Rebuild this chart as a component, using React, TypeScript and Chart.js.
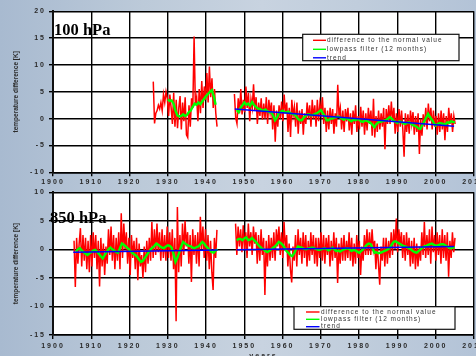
import React, { useEffect, useRef } from "react";
import { Chart, registerables } from "chart.js";
Chart.register(...registerables);

// ---------- axes ----------
const yearMin = 1900;
const yearMax = 2010;
const yearStep = 10;
const top100Range = [-10, 20];
const bottom850Range = [-15, 10];
const yStep = 5;

// ---------- labels ----------
const legendLabels = ["difference to the normal value", "lowpass filter (12 months)", "trend"];
const yTitle = "temperature difference [K]";
const xTitle = "years";
const title100 = "100 hPa";
const title850 = "850 hPa";

// ---------- 100 hPa data ----------
// red: difference to normal value, 3 samples per year
const diff100EarlyStart = 1926.2;
const diff100Early = [
  6.9, -0.9, 1.0, 1.5, 2.5, 1.8, 3.0, 1.5, 4.5, 3.0, 5.0, 3.8,
  0.5, 4.5, 2.0, -1.0, 4.8, -1.5, 3.5, -1.8, 2.0, 4.2, -2.0, 3.0,
  -0.5, 4.0, -3.0, -3.5, 2.5, -1.5, 3.8, 2.0, 15.3, 2.5, 4.0, -0.5,
  5.5, 1.0, 7.0, 2.0, 6.0, 3.5, 8.5, 3.0, 9.7, 4.0, 7.5, 2.0, 5.5, 1.0, -1.5,
];
const diff100LateStart = 1947.4;
const diff100Late = [
  4.6, 0.2,
  -0.9, 3.8, 1.0, 5.5, 0.8, 3.5, 1.2, 6.0, 2.0, 4.8, -0.5, 3.6,
  2.0, 6.4, 1.5, 4.0, -1.0, 3.0, 0.5, 3.8, -0.2, 2.8, 0.0, 4.0,
  -1.0, 3.5, 1.0, 3.0, -2.0, 2.5, -4.3, 1.5, -1.5, 2.5, 0.0, 3.2,
  -0.5, 4.5, 1.0, 3.0, -2.5, 2.0, -3.4, 3.5, 0.5, 2.2, -1.5, 3.0,
  -2.8, 1.5, -1.0, 1.8, -3.0, 1.0, -1.0, 3.0, 0.0, 2.5, -1.5, 3.5,
  0.0, 2.5, -1.5, 3.5, -0.5, 2.8, 1.0, 4.0, -1.0, 2.0, -2.5, 1.5,
  -2.0, 2.0, -1.0, 1.8, -2.8, 1.0, -1.5, 6.3, 0.5, 2.0, -2.0, 1.5,
  -2.5, 1.8, -0.5, 2.0, -2.2, 1.0, -3.0, 1.5, -1.0, 2.5, -2.5, 0.5,
  -2.0, 2.2, -1.5, 1.5, -3.0, 1.0, -2.2, 2.0, -1.0, 1.5, -3.2, 3.7,
  -3.5, 0.5, -2.5, 1.5, -2.0, 1.0, -1.5, 2.0, -5.7, 1.8, -1.0, 2.5,
  -1.0, 3.2, -0.5, 2.0, -2.8, 1.0, -2.5, 1.8, -1.5, 1.5, -2.0, -7.1,
  1.0, -2.5, 0.8, -2.8, 1.5, -1.0, 1.2, -3.0, 0.5, -2.5, 1.0, -6.6,
  0.0, -3.2, 0.8, -1.5, 2.0, -2.0, 2.8, -0.5, 2.0, -2.0, 1.5, -1.5,
  0.5, -3.0, 1.0, -2.5, 1.5, -2.0, 1.0, -4.0, 0.5, -2.5, 2.0, -1.0,
  1.0, -2.5, 0.5, -1.0,
];
// green: lowpass filter, 2 samples per year
const low100EarlyStart = 1930.0;
const low100Early = [
  3.6, 3.3, 3.4, 2.8, 1.5, 0.6, 0.4, 0.5, 0.8, 0.5, 0.7, 1.2, 1.5,
  2.2, 2.8, 2.6, 3.0, 2.7, 3.2, 3.7, 4.2, 4.6, 5.0, 5.3, 4.2, 2.6,
];
const low100LateStart = 1948.0;
const low100Late = [
  1.6, 1.2, 2.0, 2.5, 3.0, 2.6, 2.8, 2.4, 3.1, 2.6, 2.2, 1.9, 1.8, 1.6,
  1.5, 1.7, 1.4, 1.2, 1.2, 0.6, -0.3, 0.2, 1.0, 1.3, 1.5, 1.2, 1.2, 1.3,
  1.0, 0.9, 0.8, 0.5, 0.0, -0.3, -0.3, 0.2, 0.5, 0.8, 0.8, 0.6, 0.7, 0.9,
  1.0, 1.3, 1.6, 1.0, 0.5, -0.3, -0.3, 0.0, 0.0, 0.2, 0.3, 0.4, 0.2, 0.0,
  -0.2, 0.1, 0.0, -0.3, -0.5, -0.2, -0.3, -0.1, -0.2, -0.5, -0.6, -0.3,
  -0.4, -0.6, -0.8, -1.2, -1.6, -1.0, -0.7, -0.6, -0.5, -0.4, -0.3, 0.0,
  0.3, 0.0, -0.4, -0.6, -0.8, -0.5, -0.6, -0.9, -1.0, -0.8, -0.7, -0.9,
  -1.2, -1.3, -1.5, -1.8, -1.9, -1.2, -0.5, 0.2, 0.9, 0.3, -0.2, -0.8,
  -1.3, -1.0, -0.8, -0.9, -1.0, -1.1, -0.7, -0.8, -0.5, -0.6, -0.7,
];
const trend100Years = [1947.5, 2004.8];
const trend100Values = [1.8, -1.4];

// ---------- 850 hPa data ----------
const diff850EarlyStart = 1905.5;
const diff850Early = [
  1.5, -6.6,
  2.0, -2.5, 1.0, 3.7, -3.0, 2.5, -2.0, 2.0, -3.5, 1.5, -4.0, 2.5,
  -3.0, 3.0, -1.5, 2.5, -3.5, 1.5, -6.5, 2.0, -3.0, 1.0, -4.5, 0.5,
  -2.5, 3.5, -1.0, 4.0, -2.0, 2.5, -3.5, 2.0, -2.0, 3.0, -3.5, 6.3,
  -1.5, 4.5, 0.0, 3.0, -2.5, 2.0, -4.5, 2.5, -1.5, 1.5, -3.5, 2.0,
  -5.4, 1.0, -3.0, -1.0, -5.0, 0.5, -4.0, 1.5, -2.5, 2.0, -2.0, 4.8,
  -1.5, 3.5, -1.0, 4.5, -0.5, 3.0, -2.0, 3.5, -1.5, 2.5, -2.0, 4.0,
  -1.5, 3.0, -2.0, 3.5, -3.5, 2.0, -12.6, 7.4, -4.0, 2.5, -3.0, 4.5,
  -1.0, 5.0, 0.5, 3.0, -2.5, 2.5, -5.7, 3.5, -1.0, 2.5, -2.5, 3.0,
  -3.0, 5.7, 0.0, 4.0, -1.5, 3.5, -2.0, 2.5, -3.5, 1.5, -4.0, -7.1,
  2.0, -1.5, 3.4,
];
const diff850LateStart = 1947.7;
const diff850Late = [
  4.5,
  -1.0, 4.0, 0.5, 3.5, -0.5, 4.2, 0.0, 3.0, -1.5, 4.5, 0.5, 3.0,
  -1.0, 4.0, 1.0, 3.0, -2.5, 2.5, -2.0, 3.5, -1.0, 2.0, -8.0, 1.5,
  -3.0, 2.5, -2.0, 2.0, -1.5, 3.0, -2.0, 3.5, 0.5, 4.0, -1.0, 3.0,
  -1.5, 4.8, 0.0, 2.5, -3.0, 1.0, -3.5, -5.8, 0.5, -2.0, 2.5, -3.0,
  3.5, -1.0, 2.0, -2.5, 3.0, -1.5, 2.5, -3.0, 1.5, -2.0, 3.0, -1.0,
  2.5, -2.5, 2.0, -3.0, 2.0, -1.5, 3.0, -2.0, 2.5, -2.5, 2.0, -1.0,
  2.5, -3.0, 1.5, -2.0, 3.0, -1.5, 2.0, -5.9, 1.0, -2.5, 2.0, -2.0,
  2.5, -2.0, 1.5, -1.5, 3.0, -2.0, 2.0, -3.0, 1.0, -2.5, 2.5, -1.5,
  1.5, -4.5, 0.5, -2.0, 2.5, -1.0, 3.5, -1.0, 3.0, -1.0, 3.5, 0.0,
  1.5, -3.5, 1.0, -2.5, -6.2, 0.5, -2.0, 2.0, -3.0, 2.0, -2.5, 1.5,
  -1.5, 3.0, -1.0, 3.5, 0.0, 5.4, -0.5, 3.5, 0.5, 3.0, -1.5, 2.5,
  -2.0, 3.0, -1.0, 2.0, -3.0, 1.5, -2.5, 2.0, -3.5, 1.0, -3.0, 0.5,
  -2.0, 3.0, -1.0, 4.8, -1.5, 2.5, -1.0, 3.5, -2.5, 4.0, -0.5, 2.5,
  -2.0, 3.0, -1.0, 2.5, -2.5, 3.5, -1.5, 2.5, -2.0, 3.0, -4.8, 1.5,
  -1.5, 3.0, -0.5, 2.0,
];
const low850EarlyStart = 1906.0;
const low850Early = [
  -0.4, 0.0, 0.2, -0.2, -0.5, -0.8, -1.0, -0.7, -0.5, -0.2, -0.1, -0.4,
  -0.8, -1.2, -1.6, -1.0, -0.5, 0.0, 0.3, 0.0, -0.2, -0.5, -0.6, 0.2,
  1.0, 0.8, 0.5, 0.2, -0.1, -0.5, -0.8, -1.0, -1.3, -1.8, -2.2, -2.0,
  -1.5, -1.0, -0.5, 0.0, 0.3, 0.6, 1.0, 0.8, 0.5, 0.3, 0.2, 0.5,
  0.7, 0.6, 0.3, -0.8, -2.2, -1.5, -0.5, 0.5, 1.3, 1.0, 0.8, 0.6,
  0.5, 0.3, 0.2, 0.4, 0.5, 0.9, 1.3, 1.0, 0.5, 0.2, -0.2, -0.5,
  -0.6, -0.2, 0.0,
];
const low850LateStart = 1948.0;
const low850Late = [
  1.6, 1.8, 1.8, 1.6, 1.9, 2.1, 1.6, 1.7, 2.0, 1.6, 1.3, 0.9, 0.5, 0.2,
  0.0, -0.3, -0.5, -0.3, 0.0, 0.3, 0.5, 0.9, 1.3, 1.1, 0.8, 0.3, -0.3, -0.6,
  -1.0, -1.2, -0.7, 0.0, 0.5, 0.4, 0.3, 0.1, 0.0, 0.1, 0.2, 0.3, 0.3, 0.1,
  0.0, -0.1, 0.0, 0.1, 0.2, 0.0, -0.2, 0.0, 0.3, 0.0, -0.3, -0.2, -0.4, -0.2,
  0.0, 0.1, 0.2, 0.0, -0.3, -0.1, -0.2, -0.4, -0.6, -0.3, 0.0, 0.4, 0.8, 1.0,
  0.9, 0.2, -0.6, -0.5, -0.7, -0.6, -0.5, -0.3, -0.2, 0.0, 0.3, 0.8, 1.3, 1.4,
  1.2, 1.0, 0.8, 0.6, 0.5, 0.4, 0.2, 0.0, -0.3, -0.5, -0.6, -0.3, 0.0, 0.3,
  0.5, 0.6, 0.8, 0.9, 1.0, 0.8, 0.6, 0.7, 0.8, 0.9, 0.9, 0.7, 0.5, 0.3,
  0.2, 0.3, 0.4,
];
const trend850Years = [1905.3, 1943.0, 1945.5, 1948.0, 2004.8];
const trend850Values: (number | null)[] = [-0.5, -0.12, null, -0.07, 0.5];

// ---------- helpers ----------
type Pt = { x: number; y: number | null };
const seg = (start: number, perYear: number, vals: number[]): Pt[] =>
  vals.map((v, i) => ({ x: start + i / perYear, y: v }));
const joinSegs = (a: Pt[], b: Pt[]): Pt[] => {
  const gapX = (a[a.length - 1].x + b[0].x) / 2;
  return [...a, { x: gapX, y: null }, ...b];
};
const pairs = (xs: number[], ys: (number | null)[]): Pt[] => xs.map((x, i) => ({ x, y: ys[i] }));

const RED = "#ff0000";
const GREEN = "#00ff00";
const BLUE = "#0000ff";
const TEXT = "#2a2a2a";
const FONT = "'Liberation Sans', Arial, sans-serif";

type PanelSpec = {
  width: number;
  height: number;
  padTop: number;
  xAxisHeight: number;
  yRange: number[];
  red: Pt[];
  green: Pt[];
  blue: Pt[];
  title: string;
  titleX: number;
  titleY: number;
  legend: { x: number; y: number; w: number; h: number; rows: number[]; lx0: number; lx1: number; tx: number };
  xLabelPad: number;
  showXTitle: boolean;
};

function makeChart(canvas: HTMLCanvasElement, p: PanelSpec) {
  const spacing = {
    id: "spacing",
    beforeLayout(chart: any) {
      chart.ctx.letterSpacing = "2px";
    },
    beforeDraw(chart: any) {
      const ctx = chart.ctx;
      ctx.letterSpacing = "2px";
      const a = chart.chartArea;
      ctx.save();
      ctx.fillStyle = "#ffffff";
      ctx.fillRect(a.left, a.top, a.right - a.left, a.bottom - a.top);
      ctx.restore();
    },
    afterDraw(chart: any) {
      const ctx = chart.ctx;
      const a = chart.chartArea;
      ctx.save();
      // legend
      const L = p.legend;
      ctx.fillStyle = "#ffffff";
      ctx.fillRect(L.x, L.y, L.w, L.h);
      ctx.strokeStyle = "#111";
      ctx.lineWidth = 1.2;
      ctx.strokeRect(L.x, L.y, L.w, L.h);
      const cols = [RED, GREEN, BLUE];
      ctx.letterSpacing = "1px";
      ctx.font = `6.5px ${FONT}`;
      ctx.textBaseline = "middle";
      ctx.textAlign = "left";
      legendLabels.forEach((t, i) => {
        ctx.strokeStyle = cols[i];
        ctx.lineWidth = 1.4;
        ctx.beginPath();
        ctx.moveTo(L.lx0, L.rows[i]);
        ctx.lineTo(L.lx1, L.rows[i]);
        ctx.stroke();
        ctx.fillStyle = "#333";
        ctx.fillText(t, L.tx, L.rows[i]);
      });
      // panel title
      ctx.letterSpacing = "0px";
      ctx.fillStyle = "#000";
      ctx.font = `bold 16.5px 'Liberation Serif', 'Times New Roman', serif`;
      ctx.textBaseline = "alphabetic";
      ctx.fillText(p.title, p.titleX, p.titleY);
      // y title
      ctx.font = `bold 6.5px ${FONT}`;
      ctx.fillStyle = TEXT;
      ctx.textAlign = "center";
      ctx.textBaseline = "middle";
      ctx.translate(16, (a.top + a.bottom) / 2);
      ctx.rotate(-Math.PI / 2);
      ctx.fillText(yTitle, 0, 0);
      ctx.restore();
      if (p.showXTitle) {
        ctx.save();
        ctx.letterSpacing = "2px";
        ctx.font = `bold 7px ${FONT}`;
        ctx.fillStyle = TEXT;
        ctx.textAlign = "center";
        ctx.textBaseline = "top";
        ctx.fillText(xTitle, (a.left + a.right) / 2, a.bottom + 17.5);
        ctx.restore();
      }
    },
  };

  return new Chart(canvas, {
    type: "line",
    data: {
      datasets: [
        { label: legendLabels[0], data: p.red as any, borderColor: RED, borderWidth: 1.5, pointRadius: 0, order: 3, spanGaps: false },
        { label: legendLabels[1], data: p.green as any, borderColor: GREEN, borderWidth: 2.4, pointRadius: 0, order: 2, spanGaps: false },
        { label: legendLabels[2], data: p.blue as any, borderColor: BLUE, borderWidth: 1.5, pointRadius: 0, order: 1, spanGaps: false },
      ],
    },
    options: {
      responsive: false,
      animation: false,
      events: [],
      layout: { padding: { left: 0, right: 2, top: p.padTop, bottom: 0 } },
      plugins: { legend: { display: false }, tooltip: { enabled: false } },
      scales: {
        x: {
          type: "linear",
          min: yearMin,
          max: yearMax,
          ticks: {
            stepSize: yearStep,
            autoSkip: false,
            maxRotation: 0,
            callback: (v: any) => String(v),
            font: { size: 7, weight: "bold", family: FONT },
            color: TEXT,
            padding: p.xLabelPad,
          },
          grid: { color: "#000", lineWidth: 1.4, tickLength: 4, drawTicks: true },
          border: { color: "#000", width: 1.5 },
          afterFit: (s: any) => {
            s.height = p.xAxisHeight;
            s.paddingLeft = 0;
            s.paddingRight = 0;
          },
        },
        y: {
          type: "linear",
          min: p.yRange[0],
          max: p.yRange[1],
          ticks: {
            stepSize: yStep,
            font: { size: 7, weight: "bold", family: FONT },
            color: TEXT,
            padding: 3,
          },
          grid: { color: "#000", lineWidth: 1.4, tickLength: 4, drawTicks: true },
          border: { color: "#111", width: 2 },
          afterFit: (s: any) => {
            s.width = 53;
          },
        },
      },
    },
    plugins: [spacing as any],
  });
}

export default function App() {
  const topRef = useRef<HTMLCanvasElement>(null);
  const botRef = useRef<HTMLCanvasElement>(null);

  useEffect(() => {
    document.body.style.margin = "0";
    const top: PanelSpec = {
      width: 476,
      height: 190,
      padTop: 11.3,
      xAxisHeight: 17.7,
      yRange: top100Range,
      red: joinSegs(seg(diff100EarlyStart, 3, diff100Early), seg(diff100LateStart, 3, diff100Late)),
      green: joinSegs(seg(low100EarlyStart, 2, low100Early), seg(low100LateStart, 2, low100Late)),
      blue: pairs(trend100Years, trend100Values),
      title: title100,
      titleX: 54,
      titleY: 35,
      legend: { x: 302.7, y: 34.3, w: 156.3, h: 26.4, rows: [40.3, 49.3, 57.8], lx0: 313, lx1: 326, tx: 327 },
      xLabelPad: 2,
      showXTitle: false,
    };
    const bot: PanelSpec = {
      width: 476,
      height: 185,
      padTop: 6.7,
      xAxisHeight: 35,
      yRange: bottom850Range,
      red: joinSegs(seg(diff850EarlyStart, 3, diff850Early), seg(diff850LateStart, 3, diff850Late)),
      green: joinSegs(seg(low850EarlyStart, 2, low850Early), seg(low850LateStart, 2, low850Late)),
      blue: pairs(trend850Years, trend850Values),
      title: title850,
      titleX: 50,
      titleY: 38.3,
      legend: { x: 294, y: 121.7, w: 161, h: 22.6, rows: [127, 134.3, 141.7], lx0: 306, lx1: 319.5, tx: 321 },
      xLabelPad: 2.6,
      showXTitle: true,
    };
    const c1 = makeChart(topRef.current!, top);
    const c2 = makeChart(botRef.current!, bot);
    return () => {
      c1.destroy();
      c2.destroy();
    };
  }, []);

  return (
    <div
      style={{
        position: "fixed",
        left: 0,
        top: 0,
        width: 476,
        height: 356,
        overflow: "hidden",
        background:
          "linear-gradient(to right, #a8bad0 0%, #bccad9 30%, #c8d3e0 55%, #c0cddc 75%, #b3c3d7 100%)",
      }}
    >
      <canvas ref={topRef} width={476} height={190} style={{ position: "absolute", left: 0, top: 0 }} />
      <canvas ref={botRef} width={476} height={185} style={{ position: "absolute", left: 0, top: 185 }} />
    </div>
  );
}
